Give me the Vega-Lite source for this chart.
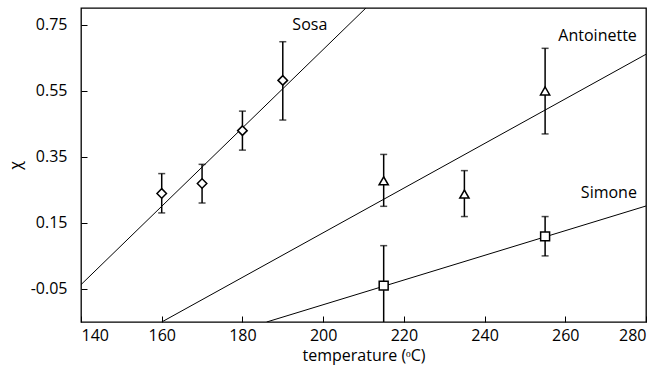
{
  "$schema": "https://vega.github.io/schema/vega-lite/v6.json",
  "autosize": {"type": "none"},
  "width": 565,
  "height": 314,
  "padding": {"left": 81, "top": 8, "right": 19, "bottom": 48},
  "background": "white",
  "config": {
    "view": {"stroke": "black", "strokeWidth": 1.3},
    "font": "Open Sans",
    "axis": {
      "domain": false,
      "grid": false,
      "tickColor": "black",
      "tickSize": -6,
      "tickWidth": 1,
      "labelFont": "Open Sans",
      "labelFontSize": 16,
      "labelColor": "black",
      "titleFont": "Open Sans",
      "titleFontSize": 16,
      "titleFontWeight": "normal",
      "titleColor": "black"
    }
  },
  "datasets": {
    "pts": [
      {"series": "Sosa", "t": 160, "x": 0.239, "lo": 0.180, "hi": 0.299},
      {"series": "Sosa", "t": 170, "x": 0.269, "lo": 0.210, "hi": 0.327},
      {"series": "Sosa", "t": 180, "x": 0.429, "lo": 0.370, "hi": 0.488},
      {"series": "Sosa", "t": 190, "x": 0.581, "lo": 0.461, "hi": 0.698},
      {"series": "Antoinette", "t": 215, "x": 0.277, "lo": 0.200, "hi": 0.357},
      {"series": "Antoinette", "t": 235, "x": 0.237, "lo": 0.169, "hi": 0.308},
      {"series": "Antoinette", "t": 255, "x": 0.549, "lo": 0.419, "hi": 0.678},
      {"series": "Simone", "t": 215, "x": -0.040, "lo": -0.161, "hi": 0.081},
      {"series": "Simone", "t": 255, "x": 0.109, "lo": 0.050, "hi": 0.169}
    ],
    "fits": [
      {"series": "Sosa", "t": 140, "x": -0.037},
      {"series": "Sosa", "t": 210.6, "x": 0.80},
      {"series": "Antoinette", "t": 160, "x": -0.15},
      {"series": "Antoinette", "t": 280, "x": 0.66},
      {"series": "Simone", "t": 186, "x": -0.15},
      {"series": "Simone", "t": 280, "x": 0.201}
    ],
    "labels": [
      {"name": "Sosa", "t": 196.7, "x": 0.75},
      {"name": "Antoinette", "t": 268, "x": 0.714},
      {"name": "Simone", "t": 270.8, "x": 0.24}
    ]
  },
  "layer": [
    {
      "data": {"name": "fits"},
      "mark": {"type": "line", "color": "black", "strokeWidth": 1, "clip": true},
      "encoding": {
        "x": {
          "field": "t", "type": "quantitative",
          "scale": {"domain": [140, 280], "nice": false, "zero": false},
          "axis": {"values": [140, 160, 180, 200, 220, 240, 260, 280], "title": "temperature (ᵒC)", "labelPadding": 11, "titlePadding": 4}
        },
        "y": {
          "field": "x", "type": "quantitative",
          "scale": {"domain": [-0.15, 0.8], "nice": false, "zero": false},
          "axis": {
            "values": [-0.05, 0.05, 0.15, 0.25, 0.35, 0.45, 0.55, 0.65, 0.75],
            "format": ".2f",
            "labelExpr": "round((datum.value + 0.05) * 10) % 2 == 0 ? replace(datum.label, '−', '-') : ''",
            "title": "χ",
            "labelPadding": 20,
            "titlePadding": 7
          }
        },
        "detail": {"field": "series"}
      }
    },
    {
      "data": {"name": "pts"},
      "mark": {"type": "rule", "color": "black", "strokeWidth": 1.5, "clip": true},
      "encoding": {
        "x": {"field": "t", "type": "quantitative"},
        "y": {"field": "lo", "type": "quantitative"},
        "y2": {"field": "hi"}
      }
    },
    {
      "data": {"name": "pts"},
      "mark": {"type": "tick", "orient": "horizontal", "color": "black", "size": 7, "thickness": 1.5, "clip": true},
      "encoding": {
        "x": {"field": "t", "type": "quantitative"},
        "y": {"field": "lo", "type": "quantitative"}
      }
    },
    {
      "data": {"name": "pts"},
      "mark": {"type": "tick", "orient": "horizontal", "color": "black", "size": 7, "thickness": 1.5, "clip": true},
      "encoding": {
        "x": {"field": "t", "type": "quantitative"},
        "y": {"field": "hi", "type": "quantitative"}
      }
    },
    {
      "data": {"name": "pts"},
      "mark": {"type": "point", "filled": true, "fill": "white", "stroke": "black", "strokeWidth": 1.5, "opacity": 1},
      "encoding": {
        "x": {"field": "t", "type": "quantitative"},
        "y": {"field": "x", "type": "quantitative"},
        "shape": {
          "field": "series", "type": "nominal",
          "scale": {"domain": ["Sosa", "Antoinette", "Simone"], "range": ["diamond", "triangle-up", "square"]},
          "legend": null
        },
        "size": {
          "field": "series", "type": "nominal",
          "scale": {"domain": ["Sosa", "Antoinette", "Simone"], "range": [90, 80, 110]},
          "legend": null
        }
      }
    },
    {
      "data": {"name": "labels"},
      "mark": {"type": "text", "font": "Open Sans", "fontSize": 16, "color": "black", "align": "center", "baseline": "middle"},
      "encoding": {
        "x": {"field": "t", "type": "quantitative"},
        "y": {"field": "x", "type": "quantitative"},
        "text": {"field": "name"}
      }
    }
  ]
}
